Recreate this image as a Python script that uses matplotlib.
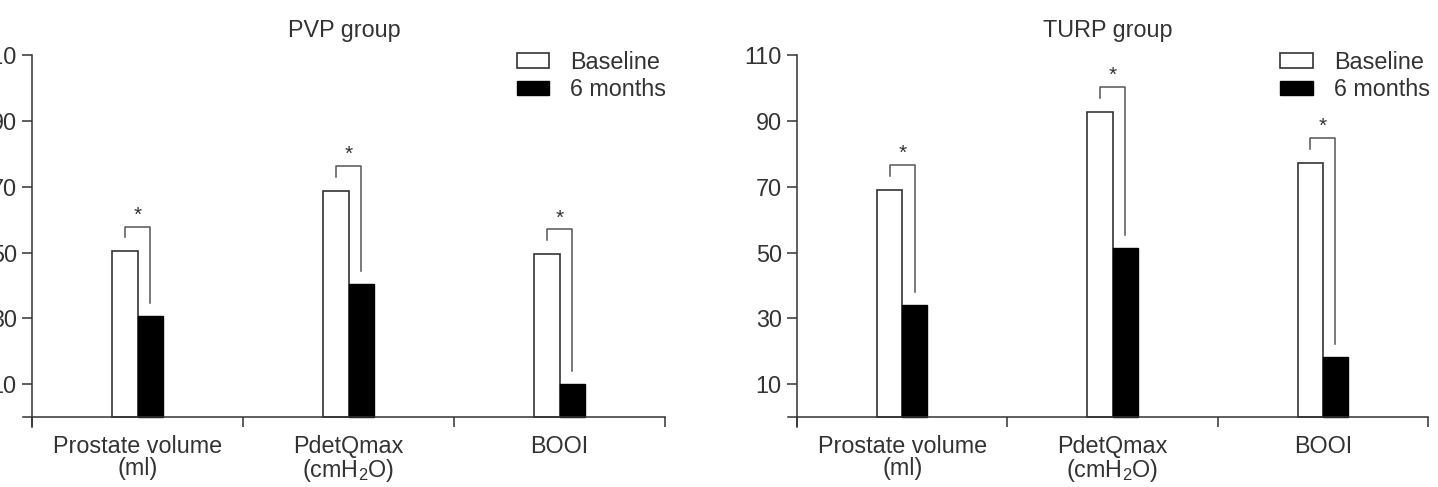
import matplotlib
matplotlib.use('Agg')
import matplotlib.pyplot as plt
import numpy as np

plt.rcParams['font.family'] = ['Liberation Sans', 'DejaVu Sans']
plt.rcParams['mathtext.fontset'] = 'custom'
plt.rcParams['mathtext.rm'] = 'Liberation Sans'
plt.rcParams['mathtext.default'] = 'regular'

categories = ['Prostate volume\n(ml)', 'PdetQmax\n(cm$H_2$O)', 'BOOI']
yticks = [10, 30, 50, 70, 90, 110]

pvp_baseline = [50.4, 68.7, 49.5]
pvp_6months = [30.7, 40.4, 10.0]
turp_baseline = [69.0, 92.7, 77.2]
turp_6months = [34.0, 51.3, 18.2]

ink = '#333333'
fs = 16.8


def draw_panel(ax, title, base, post):
    x = np.arange(len(categories)) + 0.5
    w = 0.12
    ax.bar(x - w / 2, base, w, color='white', edgecolor=ink, linewidth=1.2,
           label='Baseline')
    ax.bar(x + w / 2, post, w, color='black', edgecolor='black', linewidth=1.0,
           label='6 months')

    # significance brackets
    for xi, b, p in zip(x, base, post):
        top = b + 7.5
        ax.plot([xi - w / 2, xi - w / 2, xi + w / 2, xi + w / 2],
                [top - 3.2, top, top, p + 4.0], color='#555555', lw=1.1)
        ax.text(xi, top + 0.6, '*', ha='center', va='bottom', fontsize=15,
                color=ink)

    ax.set_xlim(-0.043, 3)
    ax.set_ylim(-3, 110)
    for s in ['top', 'right']:
        ax.spines[s].set_visible(False)
    ax.spines['left'].set_position(('data', 0))
    ax.spines['bottom'].set_position(('data', 0))
    for s in ['left', 'bottom']:
        ax.spines[s].set_color(ink)
        ax.spines[s].set_linewidth(1.1)

    ax.set_yticks(yticks)
    ax.tick_params(axis='y', direction='out', length=7, width=1.1, color=ink,
                   labelsize=fs, labelcolor=ink, pad=4)
    ax.set_xticks([0, 1, 2, 3])
    ax.set_xticklabels([])
    ax.set_xticks(x, minor=True)
    ax.set_xticklabels(categories, minor=True, fontsize=fs, color=ink,
                       linespacing=0.95)
    ax.tick_params(axis='x', which='major', direction='out', length=7,
                   width=1.1, color=ink)
    ax.tick_params(axis='x', which='minor', length=0, pad=13)

    ax.set_title(title, fontsize=fs, color=ink, pad=13)
    ax.legend(loc='upper left', bbox_to_anchor=(0.769, 1.012), frameon=False,
              fontsize=fs, handlelength=1.4, handleheight=0.6,
              handletextpad=0.9, labelspacing=0.2, borderpad=0,
              borderaxespad=0, labelcolor=ink)


fig = plt.figure(figsize=(14.38, 4.87), dpi=100)
ax1 = fig.add_axes([23 / 1438, 60 / 487, 642 / 1438, 372 / 487])
ax2 = fig.add_axes([788 / 1438, 60 / 487, 640 / 1438, 372 / 487])

draw_panel(ax1, 'PVP group', pvp_baseline, pvp_6months)
draw_panel(ax2, 'TURP group', turp_baseline, turp_6months)

fig.savefig('out.png', dpi=100)
